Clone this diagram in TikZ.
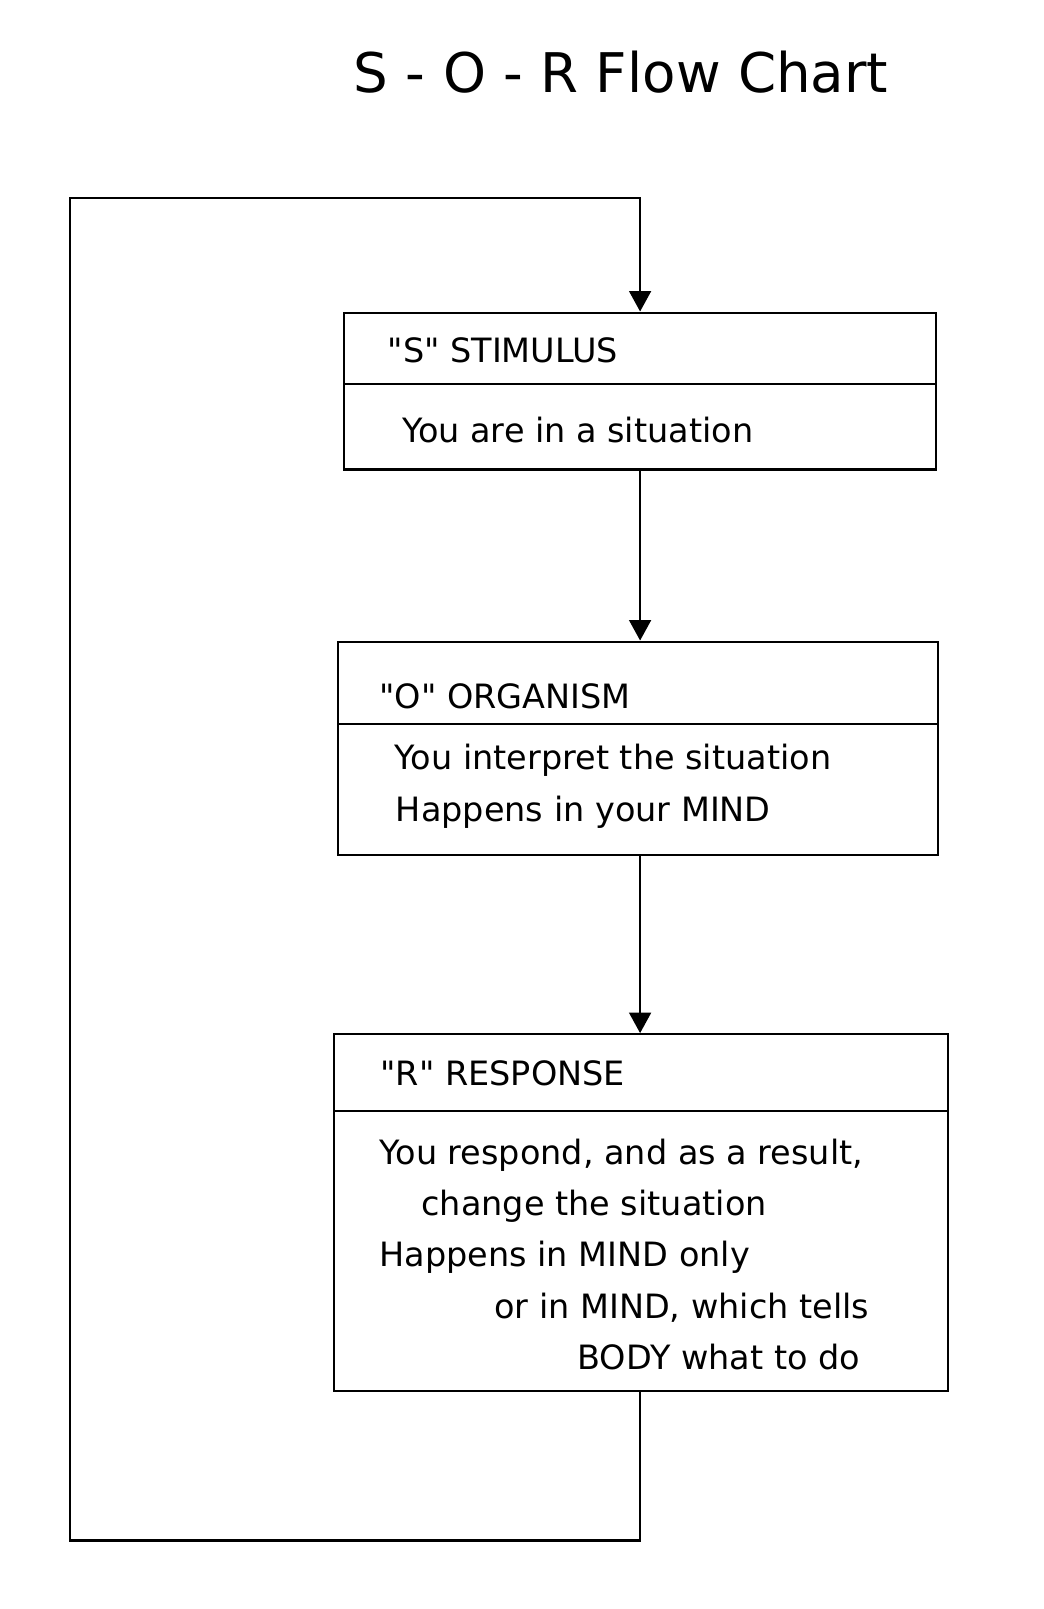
\documentclass[tikz,border=0pt]{standalone}
\usepackage{fontspec}
\setmainfont{DejaVu Sans}
\usetikzlibrary{positioning,arrows.meta}
\tikzset{linea/.style={line width=1.6pt},
  flecha/.style={linea,-{Triangle[width=16pt,length=15pt]}},
  caja/.style={draw,linea,rectangle,inner sep=0pt},
  texto/.style={anchor=base west,inner sep=0pt,font=\fontsize{24.5}{28}\selectfont}}
\begin{document}
\begin{tikzpicture}[x=0.75pt,y=-0.75pt]
            \useasboundingbox (0,0) rectangle (1018.5,1569.8);
            \node[anchor=base west,inner sep=0pt,font=\fontsize{40}{48}\selectfont] (titulo) at (345,90) {S - O - R Flow Chart};

            \node[caja, minimum width=432.75pt, minimum height=114.75pt] (S) at (624.5,381.5) {};
            \node[caja, minimum width=438.75pt, minimum height=156pt] (O) at (622.5,730) {};
            \node[caja, minimum width=449.25pt, minimum height=261pt] (R) at (625.5,1183) {};

            \draw[linea] (S.west |- 0,375) -- (S.east |- 0,375);
            \draw[linea] (O.west |- 0,706) -- (O.east |- 0,706);
            \draw[linea] (R.west |- 0,1084) -- (R.east |- 0,1084);

            \node[texto] (s1) at (378,354) {\textquotedbl S\textquotedbl\ STIMULUS};
            \node[texto] (s2) at (392,432) {You are in a situation};
            \node[texto] (o1) at (370,691) {\textquotedbl O\textquotedbl\ ORGANISM};
            \node[texto] (o2) at (385,751) {You interpret the situation};
            \node[texto] (o3) at (386,801) {Happens in your MIND};
            \node[texto] (r1) at (371,1059) {\textquotedbl R\textquotedbl\ RESPONSE};
            \node[texto] (r2) at (370,1136) {You respond, and as a result,};
            \node[texto] (r3) at (411,1186) {change the situation};
            \node[texto] (r4) at (370,1236) {Happens in MIND only};
            \node[texto] (r5) at (482,1286) {or in MIND, which tells};
            \node[texto] (r6) at (563,1336) {BODY what to do};

            \coordinate (abajo) at (68,1503);
            \coordinate (arriba) at (68,193);

            \draw[flecha] (S.south) to (S.south |- O.north);
            \draw[flecha] (S.south |- O.south) to (S.south |- R.north);
            \draw[flecha] (S.south |- R.south) |- (abajo) -- (arriba) -| (S.north);
        \end{tikzpicture}
\end{document}
